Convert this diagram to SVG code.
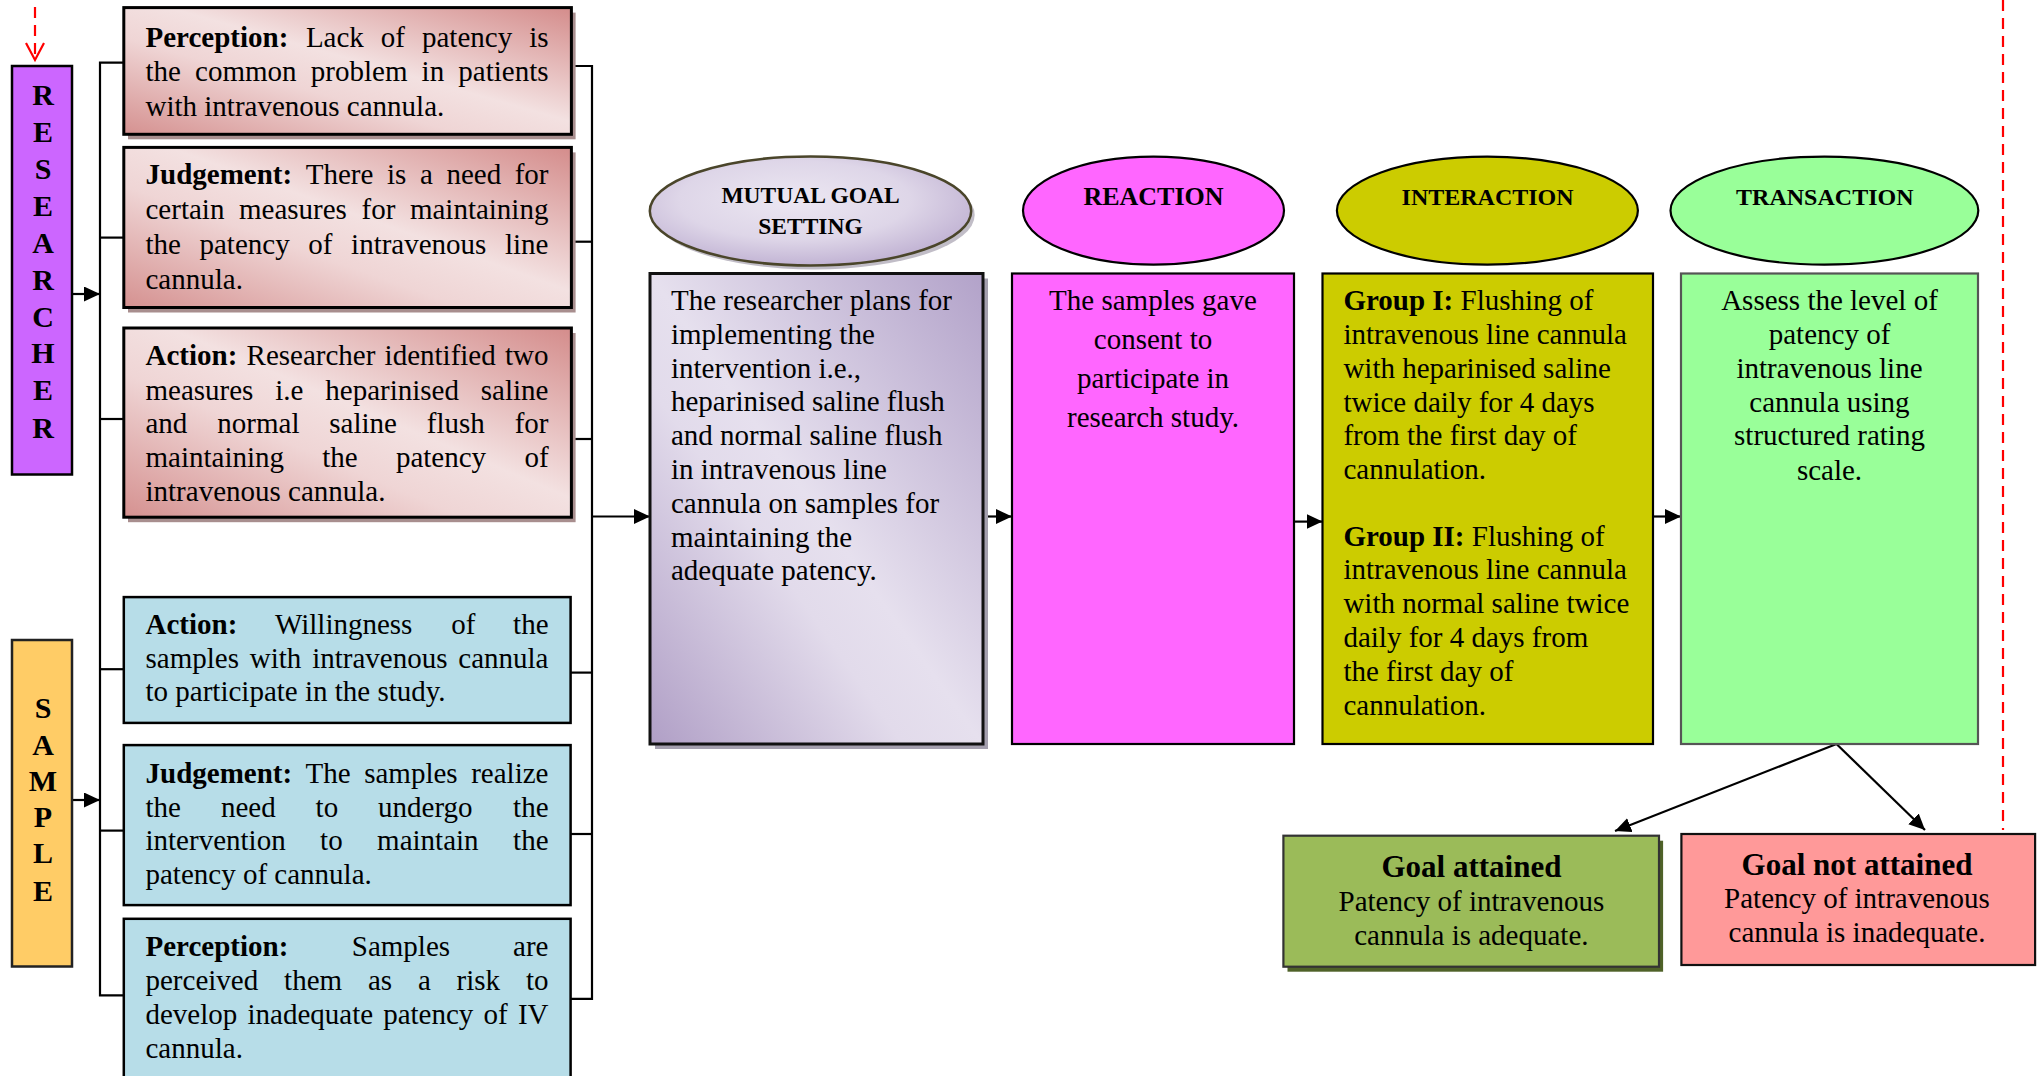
<svg xmlns="http://www.w3.org/2000/svg" width="2040" height="1076" viewBox="0 0 2040 1076">
<style>
.t{font-family:"Liberation Serif","Times New Roman",serif;font-size:29px;fill:#000}
.b{font-weight:bold}
.m{text-anchor:middle}
.hdr{font-family:"Liberation Serif","Times New Roman",serif;font-size:24px;font-weight:bold;text-anchor:middle;fill:#000}
.let{font-family:"Liberation Serif","Times New Roman",serif;font-size:30px;font-weight:bold;text-anchor:middle;fill:#000}
.ttl{font-family:"Liberation Serif","Times New Roman",serif;font-size:31px;font-weight:bold;text-anchor:middle;fill:#000}
.conn{stroke:#000;stroke-width:2.2;fill:none}
.arr{stroke:#000;stroke-width:2.2;fill:none;marker-end:url(#ah)}
.pink{fill:url(#gPink);stroke:#000;stroke-width:3}
.pshadow{fill:#a88e8e}
.blue{fill:#b7dde8;stroke:#000;stroke-width:2.5}
.red{stroke:#ff0000;stroke-width:2.2;fill:none;stroke-dasharray:11 7}
</style>
<defs>
<marker id="ah" markerUnits="userSpaceOnUse" markerWidth="17" markerHeight="16" refX="16" refY="7.5" orient="auto">
<path d="M0,0 L16,7.5 L0,15 z" fill="#000"/>
</marker>
<linearGradient id="gPink" x1="1" y1="0" x2="0" y2="1">
<stop offset="0" stop-color="#d48c8b"/>
<stop offset="0.45" stop-color="#f3e1e1"/>
<stop offset="0.62" stop-color="#efd5d5"/>
<stop offset="1" stop-color="#d59190"/>
</linearGradient>
<linearGradient id="gPurple" x1="1" y1="0" x2="0" y2="1">
<stop offset="0" stop-color="#b2a2c9"/>
<stop offset="0.5" stop-color="#e6e0ee"/>
<stop offset="0.62" stop-color="#e2dbeb"/>
<stop offset="1" stop-color="#b09fc6"/>
</linearGradient>
<radialGradient id="gEll" cx="0.45" cy="0.4" r="0.6">
<stop offset="0" stop-color="#ece7f2"/>
<stop offset="0.6" stop-color="#ded6e8"/>
<stop offset="1" stop-color="#c2b4d4"/>
</radialGradient>
</defs>

<!-- red dashed lines -->
<g id="red-dashed">
<line class="red" x1="35" y1="7" x2="35" y2="58"/>
<polyline points="26,43 35,60 44,43" fill="none" stroke="#ff0000" stroke-width="2.2"/>
<line class="red" x1="2003" y1="0" x2="2003" y2="830"/>
</g>

<!-- connectors -->
<g id="connectors">
<line class="arr" x1="72" y1="294" x2="100" y2="294"/>
<line class="arr" x1="72" y1="800" x2="100" y2="800"/>
<polyline class="conn" points="124,62.7 100,62.7 100,995.4 124,995.4"/>
<line class="conn" x1="100" y1="237.6" x2="124" y2="237.6"/>
<line class="conn" x1="100" y1="419" x2="124" y2="419"/>
<line class="conn" x1="100" y1="669.2" x2="124" y2="669.2"/>
<line class="conn" x1="100" y1="830.6" x2="124" y2="830.6"/>
<polyline class="conn" points="571,66 592,66 592,998.8 571,998.8"/>
<line class="conn" x1="571" y1="241.7" x2="592" y2="241.7"/>
<line class="conn" x1="571" y1="439" x2="592" y2="439"/>
<line class="conn" x1="571" y1="672.6" x2="592" y2="672.6"/>
<line class="conn" x1="571" y1="834" x2="592" y2="834"/>
<line class="arr" x1="592" y1="516.5" x2="650" y2="516.5"/>
<line class="arr" x1="983" y1="516.5" x2="1012" y2="516.5"/>
<line class="arr" x1="1294" y1="521.6" x2="1322.5" y2="521.6"/>
<line class="arr" x1="1653" y1="516.5" x2="1681" y2="516.5"/>
<line class="arr" x1="1836.5" y1="744" x2="1615" y2="831"/>
<line class="arr" x1="1836.5" y1="744" x2="1925" y2="830"/>
</g>

<!-- RESEARCHER -->
<g id="researcher">
<rect x="12" y="66" width="60" height="408.5" fill="#cc66ff" stroke="#000" stroke-width="2.5"/>
<text class="let" x="43" y="105">R</text>
<text class="let" x="43" y="142">E</text>
<text class="let" x="43" y="179">S</text>
<text class="let" x="43" y="216">E</text>
<text class="let" x="43" y="253">A</text>
<text class="let" x="43" y="290">R</text>
<text class="let" x="43" y="326.5">C</text>
<text class="let" x="43" y="363">H</text>
<text class="let" x="43" y="400">E</text>
<text class="let" x="43" y="438">R</text>
</g>

<!-- SAMPLE -->
<g id="sample">
<rect x="12" y="640" width="60" height="326.5" fill="#ffcc66" stroke="#222" stroke-width="2.5"/>
<text class="let" x="43" y="718">S</text>
<text class="let" x="43" y="754.5">A</text>
<text class="let" x="43" y="790.5">M</text>
<text class="let" x="43" y="826.5">P</text>
<text class="let" x="43" y="863">L</text>
<text class="let" x="43" y="900.5">E</text>
</g>

<!-- Researcher Perception -->
<g id="r-perception">
<rect class="pshadow" x="128" y="12.6" width="447.6" height="126.7"/>
<rect class="pink" x="123.8" y="7.6" width="447.6" height="126.7"/>
<text class="t" y="46.5"><tspan x="145.5" class="b">Perception:</tspan><tspan x="305.9">Lack</tspan><tspan x="380.8">of</tspan><tspan x="422">patency</tspan><tspan x="529.2">is</tspan></text>
<text class="t" y="81"><tspan x="145.5">the</tspan><tspan x="195.1">common</tspan><tspan x="310.8">problem</tspan><tspan x="421.6">in</tspan><tspan x="458.3">patients</tspan></text>
<text class="t" x="145.5" y="115.5">with intravenous cannula.</text>
</g>

<!-- Researcher Judgement -->
<g id="r-judgement">
<rect class="pshadow" x="128" y="152.4" width="447.6" height="160.1"/>
<rect class="pink" x="123.8" y="147.4" width="447.6" height="160.1"/>
<text class="t" y="184"><tspan x="145.5" class="b">Judgement:</tspan><tspan x="305.7">There</tspan><tspan x="386.9">is</tspan><tspan x="419.9">a</tspan><tspan x="446.4">need</tspan><tspan x="514.7">for</tspan></text>
<text class="t" y="219"><tspan x="145.5">certain</tspan><tspan x="239">measures</tspan><tspan x="361.5">for</tspan><tspan x="409.9">maintaining</tspan></text>
<text class="t" y="254"><tspan x="145.5">the</tspan><tspan x="199.5">patency</tspan><tspan x="308.3">of</tspan><tspan x="351.1">intravenous</tspan><tspan x="505">line</tspan></text>
<text class="t" x="145.5" y="289">cannula.</text>
</g>

<!-- Researcher Action -->
<g id="r-action">
<rect class="pshadow" x="128" y="333" width="447.6" height="189.2"/>
<rect class="pink" x="123.8" y="328" width="447.6" height="189.2"/>
<text class="t" y="365"><tspan x="145.5" class="b">Action:</tspan><tspan x="246.6">Researcher</tspan><tspan x="384.6">identified</tspan><tspan x="505">two</tspan></text>
<text class="t" y="399.5"><tspan x="145.5">measures</tspan><tspan x="275.3">i.e</tspan><tspan x="325.3">heparinised</tspan><tspan x="480.8">saline</tspan></text>
<text class="t" y="433"><tspan x="145.5">and</tspan><tspan x="217.3">normal</tspan><tspan x="329.3">saline</tspan><tspan x="426.8">flush</tspan><tspan x="514.7">for</tspan></text>
<text class="t" y="467"><tspan x="145.5">maintaining</tspan><tspan x="322.3">the</tspan><tspan x="395.9">patency</tspan><tspan x="524.4">of</tspan></text>
<text class="t" x="145.5" y="501">intravenous cannula.</text>
</g>

<!-- Sample Action -->
<g id="s-action">
<rect class="blue" x="123.8" y="597.1" width="446.8" height="125.8"/>
<text class="t" y="634"><tspan x="145.5" class="b">Action:</tspan><tspan x="275">Willingness</tspan><tspan x="451.2">of</tspan><tspan x="513.1">the</tspan></text>
<text class="t" y="667.5"><tspan x="145.5">samples</tspan><tspan x="249.8">with</tspan><tspan x="312.2">intravenous</tspan><tspan x="458.3">cannula</tspan></text>
<text class="t" x="145.5" y="701">to participate in the study.</text>
</g>

<!-- Sample Judgement -->
<g id="s-judgement">
<rect class="blue" x="123.8" y="745.1" width="446.8" height="160"/>
<text class="t" y="783"><tspan x="145.5" class="b">Judgement:</tspan><tspan x="305.6">The</tspan><tspan x="364.2">samples</tspan><tspan x="471.2">realize</tspan></text>
<text class="t" y="816.5"><tspan x="145.5">the</tspan><tspan x="220.9">need</tspan><tspan x="315.6">to</tspan><tspan x="378.1">undergo</tspan><tspan x="513.1">the</tspan></text>
<text class="t" y="850"><tspan x="145.5">intervention</tspan><tspan x="320.1">to</tspan><tspan x="377.1">maintain</tspan><tspan x="513.1">the</tspan></text>
<text class="t" x="145.5" y="884">patency of cannula.</text>
</g>

<!-- Sample Perception -->
<g id="s-perception">
<rect class="blue" x="123.8" y="918.8" width="446.8" height="175"/>
<text class="t" y="955.5"><tspan x="145.5" class="b">Perception:</tspan><tspan x="351.8">Samples</tspan><tspan x="513.1">are</tspan></text>
<text class="t" y="989.5"><tspan x="145.5">perceived</tspan><tspan x="284.1">them</tspan><tspan x="367.9">as</tspan><tspan x="417.9">a</tspan><tspan x="456.6">risk</tspan><tspan x="526">to</tspan></text>
<text class="t" y="1023.5"><tspan x="145.5">develop</tspan><tspan x="247.5">inadequate</tspan><tspan x="383.2">patency</tspan><tspan x="483.6">of</tspan><tspan x="517.9">IV</tspan></text>
<text class="t" x="145.5" y="1058">cannula.</text>
</g>

<!-- Mutual goal setting -->
<g id="mutual-goal-setting">
<ellipse cx="814" cy="215" rx="160.7" ry="54.5" fill="#a7a1af" opacity="0.7"/>
<ellipse cx="810.5" cy="211" rx="160.7" ry="54.5" fill="url(#gEll)" stroke="#4a452a" stroke-width="2.5"/>
<text class="hdr" x="810.5" y="203.3" style="font-size:23.5px">MUTUAL GOAL</text>
<text class="hdr" x="810.5" y="234" style="font-size:23.5px">SETTING</text>
<rect x="655" y="278.5" width="333" height="470.5" fill="#a49fae"/>
<rect x="650" y="273.5" width="333" height="470.5" fill="url(#gPurple)" stroke="#111" stroke-width="3"/>
<text class="t" x="671" y="310">The researcher plans for</text>
<text class="t" x="671" y="343.8">implementing the</text>
<text class="t" x="671" y="377.6">intervention i.e.,</text>
<text class="t" x="671" y="411.4">heparinised saline flush</text>
<text class="t" x="671" y="445.2">and normal saline flush</text>
<text class="t" x="671" y="479">in intravenous line</text>
<text class="t" x="671" y="512.8">cannula on samples for</text>
<text class="t" x="671" y="546.6">maintaining the</text>
<text class="t" x="671" y="580.4">adequate patency.</text>
</g>

<!-- Reaction -->
<g id="reaction">
<ellipse cx="1153.5" cy="210.6" rx="130.5" ry="54" fill="#ff66ff" stroke="#000" stroke-width="2.2"/>
<text class="hdr" x="1153.5" y="205.2" style="font-size:26px">REACTION</text>
<rect x="1012" y="273.5" width="282" height="470.5" fill="#ff66ff" stroke="#000" stroke-width="2.2"/>
<text class="t m" x="1153" y="310">The samples gave</text>
<text class="t m" x="1153" y="349">consent to</text>
<text class="t m" x="1153" y="388">participate in</text>
<text class="t m" x="1153" y="427">research study.</text>
</g>

<!-- Interaction -->
<g id="interaction">
<ellipse cx="1487.4" cy="210.6" rx="150.5" ry="54" fill="#cccc00" stroke="#000" stroke-width="2.2"/>
<text class="hdr" x="1487.6" y="205.2">INTERACTION</text>
<rect x="1322.5" y="273.5" width="330.5" height="470.5" fill="#cccc00" stroke="#000" stroke-width="2.2"/>
<text class="t" x="1343.4" y="310"><tspan class="b">Group I:</tspan> Flushing of</text>
<text class="t" x="1343.4" y="344">intravenous line cannula</text>
<text class="t" x="1343.4" y="377.5">with heparinised saline</text>
<text class="t" x="1343.4" y="411.5">twice daily for 4 days</text>
<text class="t" x="1343.4" y="445">from the first day of</text>
<text class="t" x="1343.4" y="479">cannulation.</text>
<text class="t" x="1343.4" y="545.5"><tspan class="b">Group II:</tspan> Flushing of</text>
<text class="t" x="1343.4" y="579">intravenous line cannula</text>
<text class="t" x="1343.4" y="613">with normal saline twice</text>
<text class="t" x="1343.4" y="647">daily for 4 days from</text>
<text class="t" x="1343.4" y="680.5">the first day of</text>
<text class="t" x="1343.4" y="714.5">cannulation.</text>
</g>

<!-- Transaction -->
<g id="transaction">
<ellipse cx="1824.4" cy="210.6" rx="153.9" ry="54" fill="#99ff99" stroke="#000" stroke-width="2.2"/>
<text class="hdr" x="1824.8" y="205.2">TRANSACTION</text>
<rect x="1681" y="273.5" width="297" height="470.5" fill="#99ff99" stroke="#555" stroke-width="2.2"/>
<text class="t m" x="1829.5" y="310">Assess the level of</text>
<text class="t m" x="1829.5" y="344">patency of</text>
<text class="t m" x="1829.5" y="377.5">intravenous line</text>
<text class="t m" x="1829.5" y="411.5">cannula using</text>
<text class="t m" x="1829.5" y="445">structured rating</text>
<text class="t m" x="1829.5" y="480">scale.</text>
</g>

<!-- Goal attained -->
<g id="goal-attained">
<rect x="1287.5" y="840.7" width="375.6" height="131" fill="#4f6228"/>
<rect x="1283.4" y="835.7" width="375.6" height="131" fill="#9bbb59" stroke="#333" stroke-width="2.2"/>
<text class="ttl" x="1471.4" y="876.5">Goal attained</text>
<text class="t m" x="1471.4" y="910.5">Patency of intravenous</text>
<text class="t m" x="1471.4" y="945">cannula is adequate.</text>
</g>

<!-- Goal not attained -->
<g id="goal-not-attained">
<rect x="1681.4" y="834" width="353.7" height="131" fill="#ff9999" stroke="#111" stroke-width="2.2"/>
<text class="ttl" x="1857" y="874.5">Goal not attained</text>
<text class="t m" x="1857" y="907.5">Patency of intravenous</text>
<text class="t m" x="1857" y="941.5">cannula is inadequate.</text>
</g>
</svg>
